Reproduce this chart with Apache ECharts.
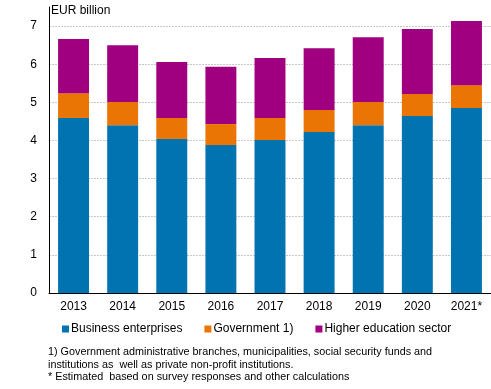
<!DOCTYPE html>
<html><head><meta charset="utf-8">
<script src="https://cdn.jsdelivr.net/npm/echarts@6/dist/echarts.min.js"></script>
<style>html,body{margin:0;padding:0;background:#fff}#c{width:491px;height:389px}</style>
</head><body><div id="c"></div>
<script>
const years = ['2013','2014','2015','2016','2017','2018','2019','2020','2021*'];
const business = [4.59, 4.40, 4.04, 3.88, 4.01, 4.22, 4.40, 4.64, 4.85];
const government = [0.65, 0.61, 0.55, 0.55, 0.58, 0.58, 0.61, 0.58, 0.60];
const higherEd = [1.42, 1.49, 1.47, 1.50, 1.57, 1.62, 1.70, 1.70, 1.68];
const seriesNames = ['Business enterprises', 'Government 1)', 'Higher education sector'];
const colors = ['#0073b0', '#ea7404', '#a0007f'];
const footnote = '1) Government administrative branches, municipalities, social security funds and\ninstitutions as  well as private non-profit institutions.\n* Estimated  based on survey responses and other calculations';

const font = 'Arial, "Liberation Sans", sans-serif';
const chart = echarts.init(document.getElementById('c'), null, {renderer: 'canvas'});
const data = [business, government, higherEd];
chart.setOption({
  animation: false,
  textStyle: {fontFamily: font},
  title: [
    {text: 'EUR billion', left: 46, top: 0, textStyle: {fontSize: 12, fontWeight: 'normal', color: '#000', fontFamily: font}},
    {text: footnote, left: 43, top: 341, textStyle: {fontSize: 10.8, fontWeight: 'normal', color: '#000', lineHeight: 12.5, fontFamily: font}}
  ],
  grid: {left: 49, right: 0, top: 7, bottom: 96, containLabel: false},
  legend: {
    left: 57, top: 318, itemWidth: 7, itemHeight: 7, itemGap: 22, icon: 'rect',
    textStyle: {fontSize: 12, color: '#000', fontFamily: font, padding: [0, 0, 0, -3]},
    data: seriesNames
  },
  xAxis: {
    type: 'category', data: years,
    axisLine: {lineStyle: {color: '#000', width: 1}},
    axisTick: {show: false},
    axisLabel: {fontSize: 12, color: '#000', margin: 8, fontFamily: font}
  },
  yAxis: {
    type: 'value', min: 0, max: 7.5, interval: 1,
    axisLine: {show: true, lineStyle: {color: '#000', width: 1}},
    axisTick: {show: false},
    axisLabel: {fontSize: 12, color: '#000', margin: 12, showMaxLabel: false, fontFamily: font},
    splitLine: {show: true, showMaxLine: false, lineStyle: {color: '#c8c8c8', type: [2, 1], width: 1}}
  },
  series: seriesNames.map((n, i) => ({
    name: n, type: 'bar', stack: 'total', barWidth: '63%',
    itemStyle: {color: colors[i]},
    data: data[i]
  }))
});
</script></body></html>
